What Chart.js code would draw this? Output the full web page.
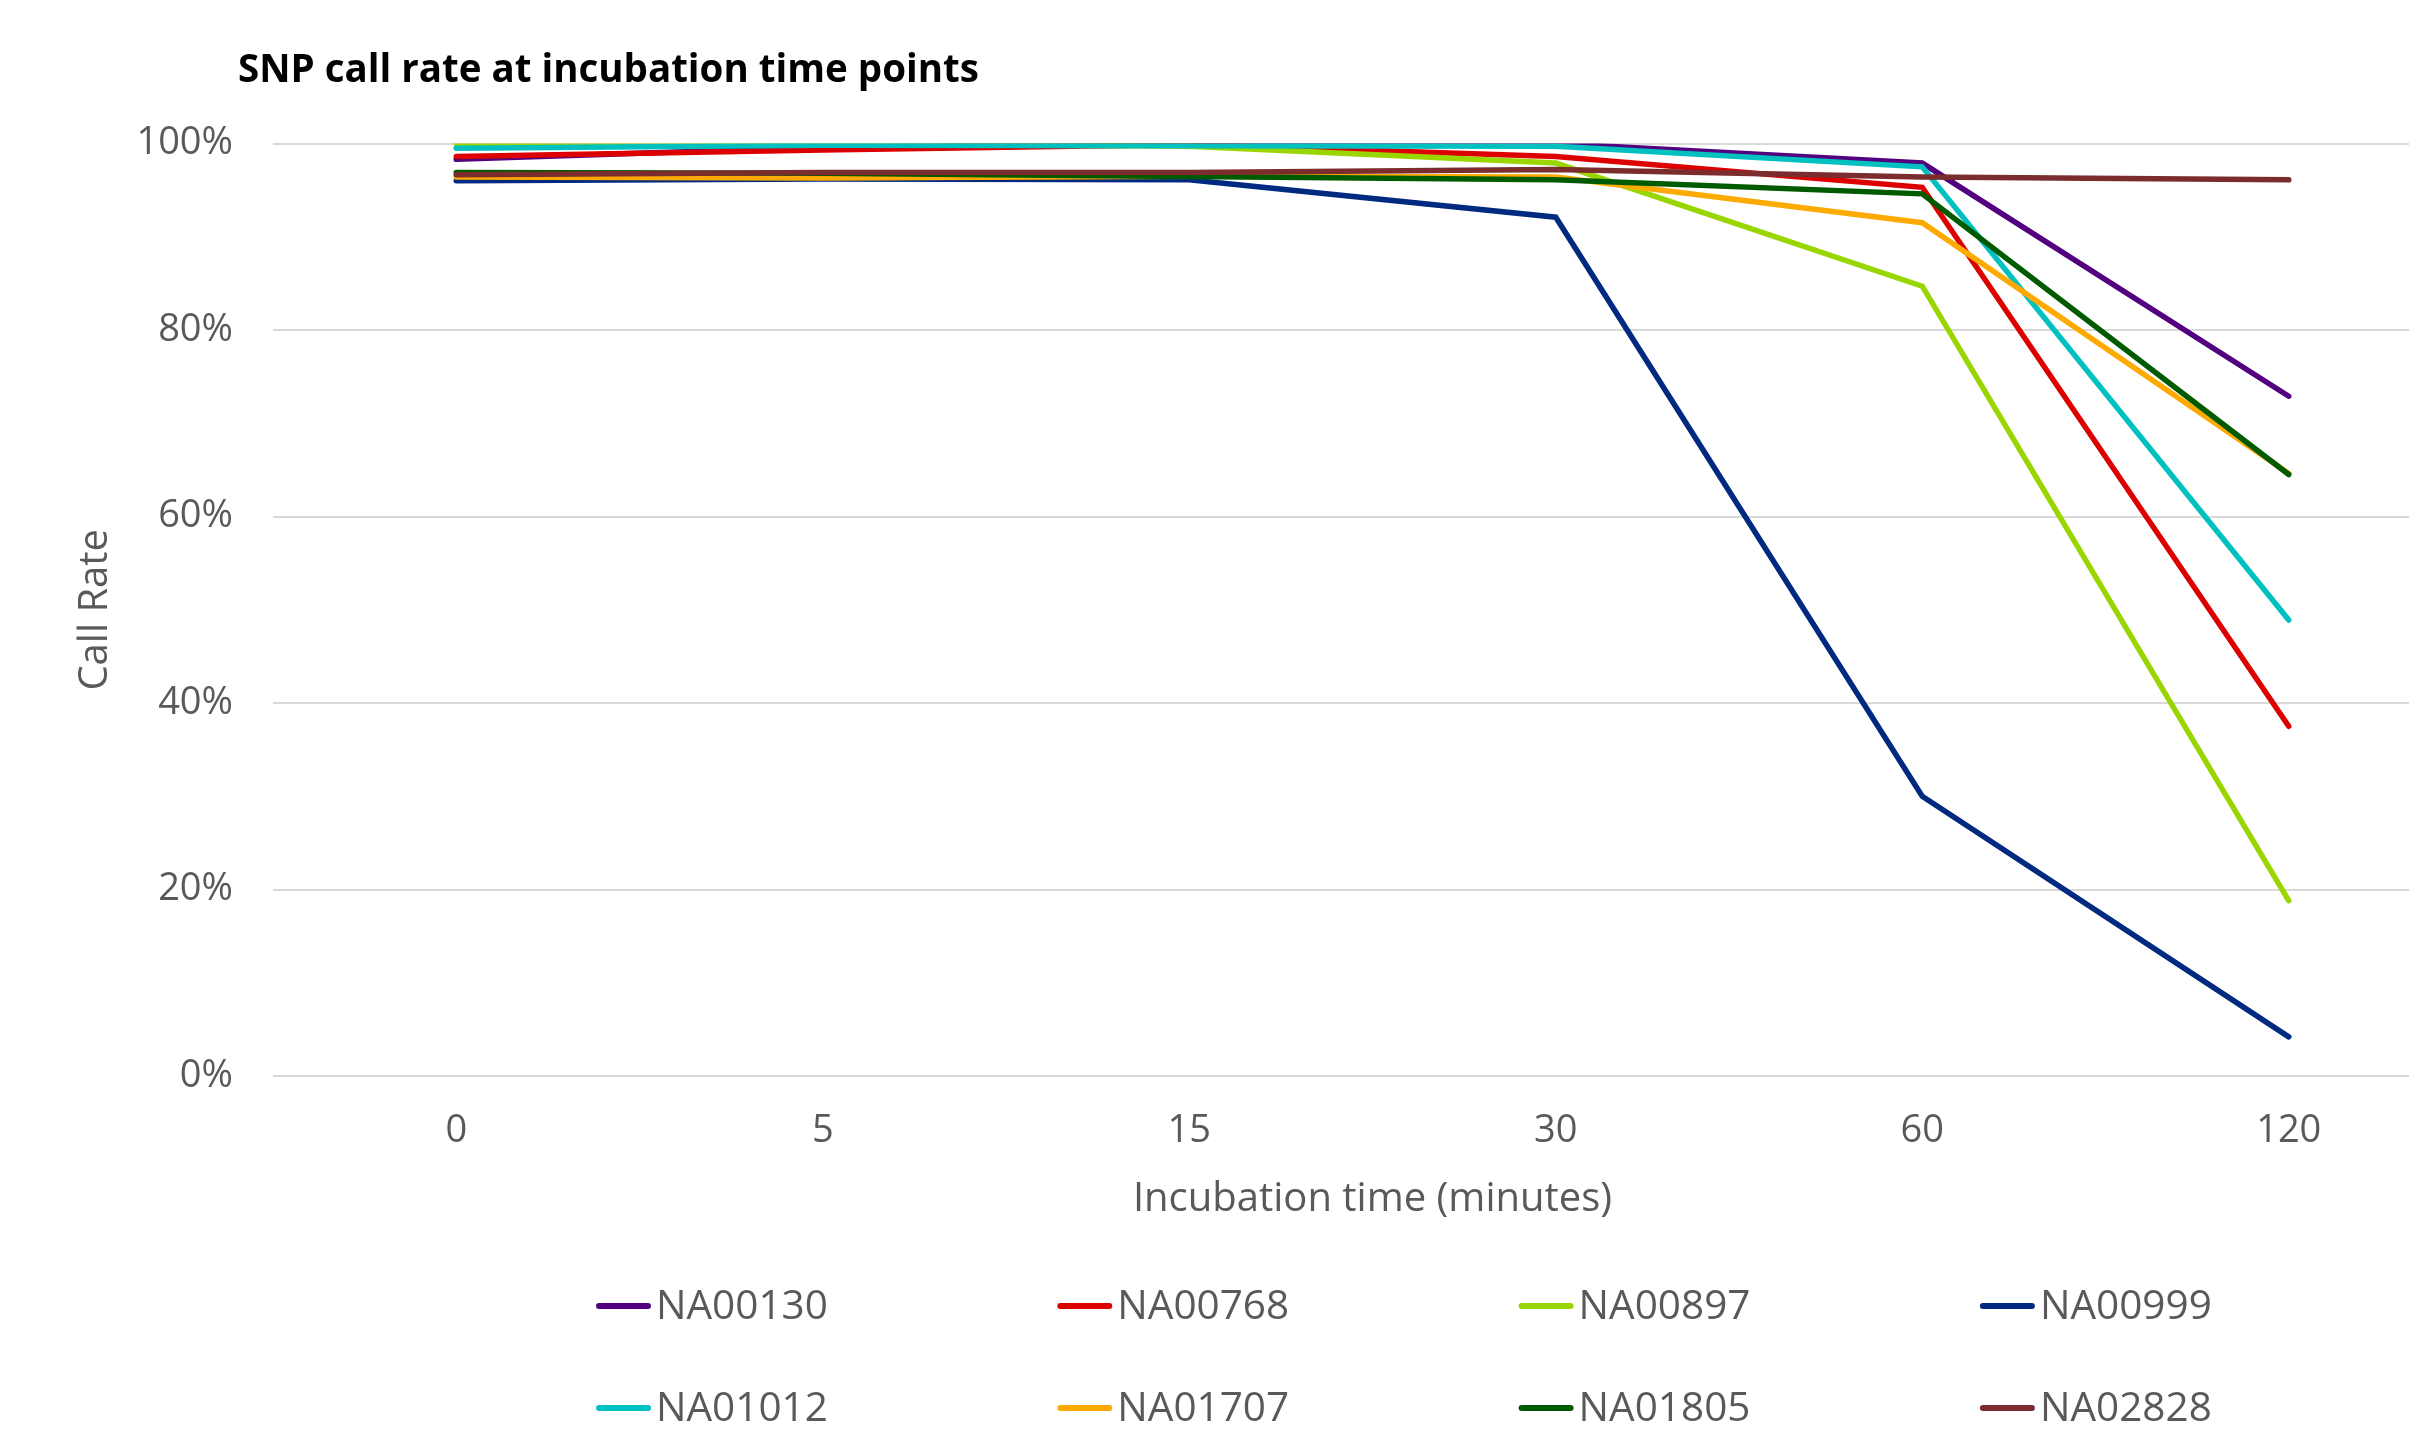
<!DOCTYPE html>
<html>
<head>
<meta charset="utf-8">
<script src="https://cdn.jsdelivr.net/npm/chart.js@4.4.1/dist/chart.umd.min.js"></script>
<style>
  html, body { margin: 0; padding: 0; background: #ffffff; overflow: hidden; }
  #wrap { position: relative; width: 2472px; height: 1431px; }
</style>
</head>
<body>
<div id="wrap"><canvas id="callRateChart"></canvas></div>
<script>
// Chart data
const times = ['0', '5', '15', '30', '60', '120'];
const sampleNames = ['NA00130', 'NA00768', 'NA00897', 'NA00999', 'NA01012', 'NA01707', 'NA01805', 'NA02828'];
const na00130 = [98.3, 99.6, 100, 100, 97.9, 72.9];
const na00768 = [98.6, 99.3, 99.9, 98.6, 95.3, 37.5];
const na00897 = [100, 100, 99.7, 97.9, 84.7, 18.8];
const na00999 = [96.0, 96.2, 96.1, 92.1, 30.0, 4.2];
const na01012 = [99.5, 99.8, 99.75, 99.7, 97.5, 48.9];
const na01707 = [96.4, 96.3, 96.5, 96.4, 91.5, 64.6];
const na01805 = [96.9, 96.8, 96.45, 96.1, 94.6, 64.5];
const na02828 = [96.65, 96.9, 96.9, 97.2, 96.4, 96.1];
const yTicks = [0, 20, 40, 60, 80, 100];

const seriesValues = [na00130, na00768, na00897, na00999, na01012, na01707, na01805, na02828];
const seriesColors = ['#52007F', '#DD0000', '#99D600', '#002A80', '#00C0C0', '#FFAA00', '#005A00', '#7B2D2D'];

const textGray = '#595959';
const fontFamily = "'Open Sans', 'Noto Sans', sans-serif";

// Title and grid legend drawn on the chart canvas
const headerLegend = {
    id: 'headerLegend',
    afterDraw(chart) {
        const ctx = chart.ctx;
        ctx.save();
        ctx.fillStyle = '#000000';
        ctx.font = `bold 38.5px ${fontFamily}`;
        ctx.textAlign = 'left';
        ctx.textBaseline = 'middle';
        ctx.fillText('SNP call rate at incubation time points', 238, 71);

        ctx.font = `40.5px ${fontFamily}`;
        chart.data.datasets.forEach((ds, i) => {
            const x = 599 + (i % 4) * 461.3;
            const y = 1306 + Math.floor(i / 4) * 102;
            ctx.strokeStyle = ds.borderColor;
            ctx.lineWidth = 6;
            ctx.lineCap = 'round';
            ctx.beginPath();
            ctx.moveTo(x, y);
            ctx.lineTo(x + 49, y);
            ctx.stroke();
            ctx.fillStyle = textGray;
            ctx.fillText(ds.label, x + 57, y + 1);
        });
        ctx.restore();
    }
};

const ctx = document.getElementById('callRateChart').getContext('2d');
new Chart(ctx, {
    type: 'line',
    data: {
        labels: times,
        datasets: sampleNames.map((name, i) => ({
            label: name,
            data: seriesValues[i],
            borderColor: seriesColors[i],
            backgroundColor: seriesColors[i],
            borderWidth: 5.5,
            borderCapStyle: 'round',
            pointRadius: 0,
            pointHoverRadius: 0,
            tension: 0,
            fill: false,
            order: sampleNames.length - i
        }))
    },
    options: {
        responsive: true,
        maintainAspectRatio: false,
        animation: false,
        layout: {
            padding: { top: 143.5, right: 0, bottom: 195, left: 0 }
        },
        plugins: {
            legend: { display: false },
            title: { display: false },
            tooltip: { enabled: false }
        },
        scales: {
            x: {
                offset: true,
                grid: { display: false },
                border: { display: false },
                ticks: {
                    color: textGray,
                    padding: 24,
                    font: { family: fontFamily, size: 38 }
                },
                title: {
                    display: true,
                    text: 'Incubation time (minutes)',
                    color: textGray,
                    padding: { top: 0, bottom: 12 },
                    font: { family: fontFamily, size: 40 }
                },
                afterFit(scale) { scale.height = 160; }
            },
            y: {
                min: 0,
                max: 100,
                afterBuildTicks(scale) { scale.ticks = yTicks.map(v => ({ value: v })); },
                grid: { color: '#D9D9D9', lineWidth: 2, drawTicks: false },
                border: { display: false },
                ticks: {
                    color: textGray,
                    padding: 40,
                    font: { family: fontFamily, size: 38 },
                    callback: v => v + '%'
                },
                title: {
                    display: true,
                    text: 'Call Rate',
                    color: textGray,
                    padding: { top: 72, bottom: 0 },
                    font: { family: fontFamily, size: 40 }
                },
                afterFit(scale) { scale.width = 273; }
            }
        }
    },
    plugins: [headerLegend]
});
</script>
</body>
</html>
